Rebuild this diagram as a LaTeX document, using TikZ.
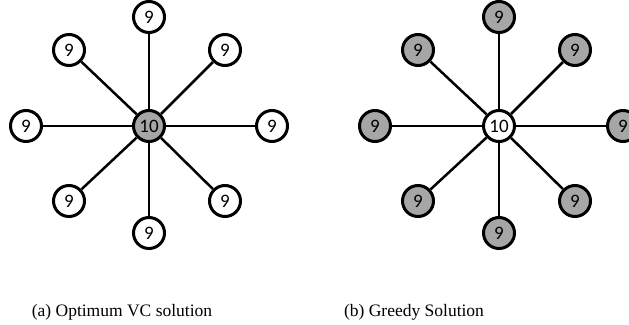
\documentclass[tikz,border=0pt]{standalone}
\usepackage{fontspec}
\setmainfont{Liberation Serif}
\newfontfamily\nodefont{Carlito}
\definecolor{covered}{RGB}{166,166,166}
\tikzset{
  vtx/.style={circle, draw=black, line width=3pt, minimum size=31pt, inner sep=0pt,
              font=\nodefont\fontsize{19}{19}\selectfont, fill=white},
  incover/.style={vtx, fill=covered},
  edgeline/.style={line width=2.5pt, draw=black},
  caption/.style={font=\fontsize{17.5}{19}\selectfont, inner sep=0pt}
}
\begin{document}
\begin{tikzpicture}[x=1pt,y=-1pt]
  \useasboundingbox (0,0) rectangle (629,324);

  % (a) optimum cover: only the hub is chosen
  \node[incover] (ac) at (149,126) {10};
  \node[vtx] (an)  at (149,17)  {9};
  \node[vtx] (as)  at (149,233) {9};
  \node[vtx] (aw)  at (26,126)  {9};
  \node[vtx] (ae)  at (272,126) {9};
  \node[vtx] (anw) at (69,50)   {9};
  \node[vtx] (ane) at (225,50)  {9};
  \node[vtx] (asw) at (69,201)  {9};
  \node[vtx] (ase) at (225,201) {9};
  \foreach \v in {an,as,aw,ae,anw,ane,asw,ase}
    \draw[edgeline] (ac) -- (\v);

  % (b) greedy cover: every leaf is chosen
  \node[vtx] (bc) at (499,126) {10};
  \node[incover] (bn)  at (499,17)  {9};
  \node[incover] (bs)  at (499,233) {9};
  \node[incover] (bw)  at (375,126) {9};
  \node[incover] (be)  at (623,126) {9};
  \node[incover] (bnw) at (418,50)  {9};
  \node[incover] (bne) at (575,50)  {9};
  \node[incover] (bsw) at (418,201) {9};
  \node[incover] (bse) at (575,201) {9};
  \foreach \v in {bn,bs,bw,be,bnw,bne,bsw,bse}
    \draw[edgeline] (bc) -- (\v);

  \node[caption] (capa) at (122,312) {(a) Optimum VC solution};
  \node[caption] (capb) at (414,312) {(b) Greedy Solution};
\end{tikzpicture}
\end{document}
